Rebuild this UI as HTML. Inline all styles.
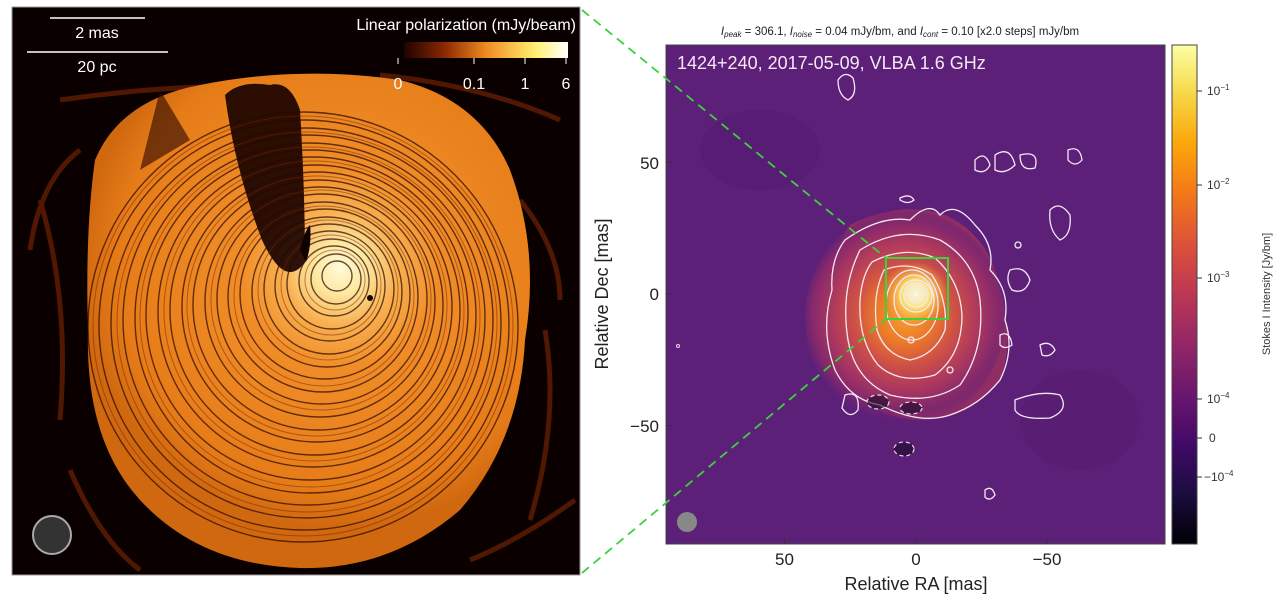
<!DOCTYPE html>
<html><head><meta charset="utf-8"><style>
html,body{margin:0;padding:0;background:#fff;}
svg{display:block;}
text{font-family:"Liberation Sans","DejaVu Sans",sans-serif;}
</style></head><body>
<svg width="1280" height="604" viewBox="0 0 1280 604" xmlns="http://www.w3.org/2000/svg">
<defs>
<radialGradient id="lp" cx="340" cy="268" r="260" gradientUnits="userSpaceOnUse">
<stop offset="0" stop-color="#fffad8"/>
<stop offset="0.1" stop-color="#fde8a0"/>
<stop offset="0.22" stop-color="#f8b050"/>
<stop offset="0.38" stop-color="#f08d28"/>
<stop offset="0.85" stop-color="#e67c18"/>
<stop offset="1" stop-color="#d06810"/>
</radialGradient>
<linearGradient id="cb" x1="0" y1="1" x2="0" y2="0">
<stop offset="0" stop-color="#000004"/>
<stop offset="0.1" stop-color="#1b0c41"/>
<stop offset="0.2" stop-color="#420a68"/>
<stop offset="0.3" stop-color="#6a176e"/>
<stop offset="0.4" stop-color="#932667"/>
<stop offset="0.5" stop-color="#bc3754"/>
<stop offset="0.6" stop-color="#dd513a"/>
<stop offset="0.7" stop-color="#f3771a"/>
<stop offset="0.8" stop-color="#fca50a"/>
<stop offset="0.9" stop-color="#f6d746"/>
<stop offset="1" stop-color="#fcffa4"/>
</linearGradient>
<linearGradient id="lpbar" x1="0" y1="0" x2="1" y2="0">
<stop offset="0" stop-color="#200000"/>
<stop offset="0.25" stop-color="#8a2a00"/>
<stop offset="0.5" stop-color="#f08a22"/>
<stop offset="0.8" stop-color="#fff070"/>
<stop offset="1" stop-color="#ffffff"/>
</linearGradient>
<radialGradient id="heat" cx="905" cy="315" r="110" gradientUnits="userSpaceOnUse">
<stop offset="0" stop-color="#f7a030"/>
<stop offset="0.25" stop-color="#ec7a28"/>
<stop offset="0.45" stop-color="#d05244"/>
<stop offset="0.65" stop-color="#b03a5c"/>
<stop offset="0.85" stop-color="#85286c"/>
<stop offset="1" stop-color="#5d2078" stop-opacity="0"/>
</radialGradient>
<radialGradient id="core" cx="916" cy="294" r="32" gradientUnits="userSpaceOnUse">
<stop offset="0" stop-color="#fdffc8"/>
<stop offset="0.45" stop-color="#fbe070"/>
<stop offset="1" stop-color="#f7a030" stop-opacity="0"/>
</radialGradient>
<clipPath id="lclip"><rect x="12" y="7" width="568" height="568"/></clipPath>
<clipPath id="rclip"><rect x="666" y="45" width="499" height="499"/></clipPath>
</defs>

<!-- LEFT PANEL -->
<g clip-path="url(#lclip)">
<rect x="12" y="7" width="568" height="568" fill="#0a0000"/>
<g fill="none" stroke="#8a2a05" stroke-width="5" opacity="0.55">
<path d="M60 100 Q200 80 300 90"/><path d="M380 75 Q480 85 560 120"/>
<path d="M40 200 Q70 300 60 420"/><path d="M545 330 Q560 420 530 520"/>
<path d="M70 470 Q100 540 140 570"/><path d="M470 560 Q520 540 575 500"/>
<path d="M30 250 Q40 180 80 150"/><path d="M520 200 Q560 250 560 300"/>
</g>
<path d="M95 160 Q120 100 200 85 Q300 65 400 80 Q480 100 510 170 Q540 250 525 340 Q520 440 460 510 Q390 570 300 568 Q200 565 140 500 Q85 440 88 330 Q85 230 95 160 Z" fill="url(#lp)"/>
<!-- dark wedge -->
<path d="M225 95 Q235 170 262 240 Q285 290 305 262 Q305 190 300 110 Q290 80 270 85 Q240 80 225 95 Z" fill="#1a0300" opacity="0.92"/>
<path d="M160 90 L190 140 L140 170 Z" fill="#2a0500" opacity="0.6"/>
<g fill="none" stroke="#2a0600" stroke-width="1.4" opacity="0.7">
<circle cx="337" cy="276" r="15"/><circle cx="336" cy="279" r="25"/><circle cx="334" cy="281" r="35"/>
<circle cx="332" cy="284" r="45"/><circle cx="330" cy="286" r="55"/><circle cx="329" cy="289" r="65"/>
<circle cx="327" cy="292" r="75"/><circle cx="325" cy="294" r="85"/><circle cx="323" cy="297" r="95"/>
<circle cx="322" cy="299" r="105"/><circle cx="320" cy="302" r="115"/><circle cx="318" cy="305" r="125"/>
<circle cx="317" cy="307" r="135"/><circle cx="315" cy="310" r="145"/><circle cx="313" cy="312" r="155"/>
<circle cx="311" cy="315" r="165"/><circle cx="310" cy="318" r="175"/><circle cx="308" cy="320" r="185"/>
<circle cx="306" cy="323" r="195"/><circle cx="304" cy="325" r="205"/><circle cx="303" cy="327" r="215"/>
</g>
<g fill="none" stroke="#7a2400" stroke-width="1" opacity="0.5">
<circle cx="335" cy="280" r="30"/><circle cx="331" cy="285" r="50"/><circle cx="328" cy="290" r="70"/>
<circle cx="324" cy="296" r="90"/><circle cx="321" cy="300" r="110"/><circle cx="317" cy="306" r="130"/>
<circle cx="314" cy="311" r="150"/><circle cx="310" cy="317" r="170"/><circle cx="307" cy="322" r="190"/><circle cx="303" cy="326" r="210"/>
</g>
<path d="M300 250 Q305 230 310 225 Q312 245 306 262 Z" fill="#100000"/>
<circle cx="370" cy="298" r="3" fill="#100000"/>
</g>
<rect x="12" y="7" width="568" height="568" fill="none" stroke="#999" stroke-width="1"/>
<line x1="50" y1="18" x2="145" y2="18" stroke="#fff" stroke-width="1.5"/>
<text x="97" y="38" fill="#fff" font-size="16" text-anchor="middle">2 mas</text>
<line x1="27" y1="52" x2="168" y2="52" stroke="#fff" stroke-width="1.5"/>
<text x="97" y="72" fill="#fff" font-size="16" text-anchor="middle">20 pc</text>
<text x="576" y="30" fill="#fff" font-size="16" text-anchor="end">Linear polarization (mJy/beam)</text>
<rect x="404" y="42" width="164" height="16" fill="url(#lpbar)"/>
<g stroke="#fff" stroke-width="1"><line x1="398" y1="58" x2="398" y2="64"/><line x1="474" y1="58" x2="474" y2="64"/><line x1="525" y1="58" x2="525" y2="64"/><line x1="566" y1="58" x2="566" y2="64"/></g>
<g fill="#fff" font-size="16" text-anchor="middle"><text x="398" y="89">0</text><text x="474" y="89">0.1</text><text x="525" y="89">1</text><text x="566" y="89">6</text></g>
<circle cx="52" cy="535" r="19" fill="#333" stroke="#aaa" stroke-width="2"/>

<!-- RIGHT PANEL -->
<text x="900" y="35" font-size="11.5" text-anchor="middle" fill="#222"><tspan font-style="italic">I</tspan><tspan font-size="8" dy="2" font-style="italic">peak</tspan><tspan dy="-2"> = 306.1, </tspan><tspan font-style="italic">I</tspan><tspan font-size="8" dy="2" font-style="italic">noise</tspan><tspan dy="-2"> = 0.04 mJy/bm, and </tspan><tspan font-style="italic">I</tspan><tspan font-size="8" dy="2" font-style="italic">cont</tspan><tspan dy="-2"> = 0.10 [x2.0 steps] mJy/bm</tspan></text>
<g clip-path="url(#rclip)">
<rect x="666" y="45" width="499" height="499" fill="#5d2078"/>
<ellipse cx="760" cy="150" rx="60" ry="40" fill="#52196f" opacity="0.5"/>
<ellipse cx="1080" cy="420" rx="60" ry="50" fill="#55196f" opacity="0.5"/>
<path d="M850 225 Q900 200 945 215 Q990 235 1000 290 Q1015 340 1000 380 Q970 420 920 420 Q870 418 848 380 Q828 330 835 280 Q838 240 850 225 Z" fill="#9a3062" opacity="0.85"/>
<ellipse cx="905" cy="318" rx="100" ry="108" fill="url(#heat)"/>
<circle cx="916" cy="294" r="32" fill="url(#core)"/>
<g fill="none" stroke="#f4e8f4" stroke-width="1.3">
<path d="M845 240 Q880 215 910 220 Q930 200 940 215 Q955 200 975 225 Q995 245 990 270 Q1010 290 1005 320 Q1015 350 1000 380 Q980 405 950 415 Q920 425 880 405 Q850 400 835 370 Q820 330 832 290 Q830 260 845 240 Z"/>
<path d="M860 250 Q900 225 940 240 Q975 260 980 300 Q985 350 960 385 Q930 405 890 395 Q855 380 848 340 Q840 290 860 250 Z"/>
<path d="M872 262 Q905 245 935 258 Q960 280 962 315 Q962 355 935 375 Q900 385 878 365 Q858 340 860 300 Q862 275 872 262 Z"/>
<path d="M884 270 Q910 260 932 275 Q948 300 945 330 Q935 355 910 360 Q885 355 877 330 Q872 295 884 270 Z"/>
<ellipse cx="912" cy="305" rx="26" ry="35"/>
<ellipse cx="914" cy="300" rx="20" ry="25"/>
<circle cx="916" cy="296" r="16"/><circle cx="916" cy="295" r="12"/><circle cx="916" cy="294" r="9"/><circle cx="916" cy="294" r="6"/><circle cx="916" cy="294" r="3"/>
<path d="M838 80 Q845 70 853 78 Q858 95 848 100 Q838 95 838 80 Z"/>
<path d="M975 160 Q985 150 990 165 Q985 175 975 170 Z"/>
<path d="M995 155 Q1010 145 1015 165 Q1005 175 995 170 Z"/>
<path d="M1020 155 Q1040 150 1035 168 Q1020 172 1020 155 Z"/>
<path d="M1068 150 Q1080 145 1082 160 Q1075 168 1068 160 Z"/>
<path d="M1050 210 Q1060 200 1070 215 Q1072 235 1060 240 Q1048 230 1050 210 Z"/>
<path d="M1010 270 Q1025 265 1030 280 Q1025 295 1012 290 Q1005 280 1010 270 Z"/>
<path d="M1000 335 Q1010 330 1012 345 Q1005 350 1000 345 Z"/>
<path d="M1040 345 Q1050 340 1055 350 Q1050 358 1042 355 Z"/>
<path d="M1015 400 Q1040 390 1060 395 Q1070 410 1050 418 Q1020 420 1015 410 Z"/>
<path d="M985 490 Q992 485 995 495 Q990 502 985 497 Z"/>
<path d="M845 395 Q860 390 858 410 Q850 420 842 408 Z"/>
<path d="M900 198 Q910 193 914 200 Q908 205 900 200 Z"/>
<circle cx="1018" cy="245" r="3"/>
<circle cx="911" cy="340" r="3"/>
<circle cx="950" cy="370" r="3"/>
</g>
<g fill="#1a0828" opacity="0.6"><ellipse cx="878" cy="402" rx="11" ry="7"/><ellipse cx="911" cy="408" rx="11" ry="6"/><ellipse cx="904" cy="449" rx="10" ry="7"/></g>
<g fill="none" stroke="#ddd" stroke-width="1.2" stroke-dasharray="4,3">
<ellipse cx="878" cy="402" rx="11" ry="7"/><ellipse cx="911" cy="408" rx="11" ry="6"/><ellipse cx="904" cy="449" rx="10" ry="7"/>
</g>
<circle cx="678" cy="346" r="1.5" fill="none" stroke="#ddd"/>
<ellipse cx="687" cy="522" rx="10" ry="10" fill="#888"/>
<text x="677" y="69" font-size="18" fill="#f5e8f5">1424+240, 2017-05-09, VLBA 1.6 GHz</text>
<rect x="886" y="258" width="62" height="61" fill="none" stroke="#3cd23c" stroke-width="2"/>
</g>
<rect x="666" y="45" width="499" height="499" fill="none" stroke="#444" stroke-width="1"/>
<g stroke="#333" stroke-width="1">
<line x1="784.5" y1="544" x2="784.5" y2="538"/><line x1="916" y1="544" x2="916" y2="538"/><line x1="1047" y1="544" x2="1047" y2="538"/>
<line x1="666" y1="162.5" x2="672" y2="162.5"/><line x1="666" y1="294" x2="672" y2="294"/><line x1="666" y1="425.6" x2="672" y2="425.6"/>
</g>
<g font-size="17" fill="#222" text-anchor="middle"><text x="784.5" y="565">50</text><text x="916" y="565">0</text><text x="1047" y="565">−50</text></g>
<g font-size="17" fill="#222" text-anchor="end"><text x="659" y="169">50</text><text x="659" y="300">0</text><text x="659" y="432">−50</text></g>
<text x="916" y="590" font-size="18" fill="#222" text-anchor="middle">Relative RA [mas]</text>
<text transform="translate(608 294) rotate(-90)" font-size="18" fill="#222" text-anchor="middle">Relative Dec [mas]</text>
<rect x="1172" y="45" width="25" height="499" fill="url(#cb)" stroke="#444" stroke-width="1"/>
<g stroke="#333"><line x1="1197" y1="91" x2="1202" y2="91"/><line x1="1197" y1="185" x2="1202" y2="185"/><line x1="1197" y1="278" x2="1202" y2="278"/><line x1="1197" y1="399" x2="1202" y2="399"/><line x1="1197" y1="438" x2="1202" y2="438"/><line x1="1197" y1="477" x2="1202" y2="477"/></g>
<g font-size="12" fill="#333">
<text x="1207" y="95">10<tspan font-size="8" dy="-5">−1</tspan></text>
<text x="1207" y="189">10<tspan font-size="8" dy="-5">−2</tspan></text>
<text x="1207" y="282">10<tspan font-size="8" dy="-5">−3</tspan></text>
<text x="1207" y="403">10<tspan font-size="8" dy="-5">−4</tspan></text>
<text x="1209" y="442">0</text>
<text x="1204" y="481">−10<tspan font-size="8" dy="-5">−4</tspan></text>
</g>
<text transform="translate(1270 294) rotate(-90)" font-size="11" fill="#333" text-anchor="middle">Stokes I Intensity [Jy/bm]</text>
<g stroke="#3cd23c" stroke-width="1.8" stroke-dasharray="9,6" fill="none">
<line x1="582" y1="10" x2="886" y2="258"/><line x1="582" y1="573" x2="886" y2="319"/>
</g>
</svg>
</body></html>
